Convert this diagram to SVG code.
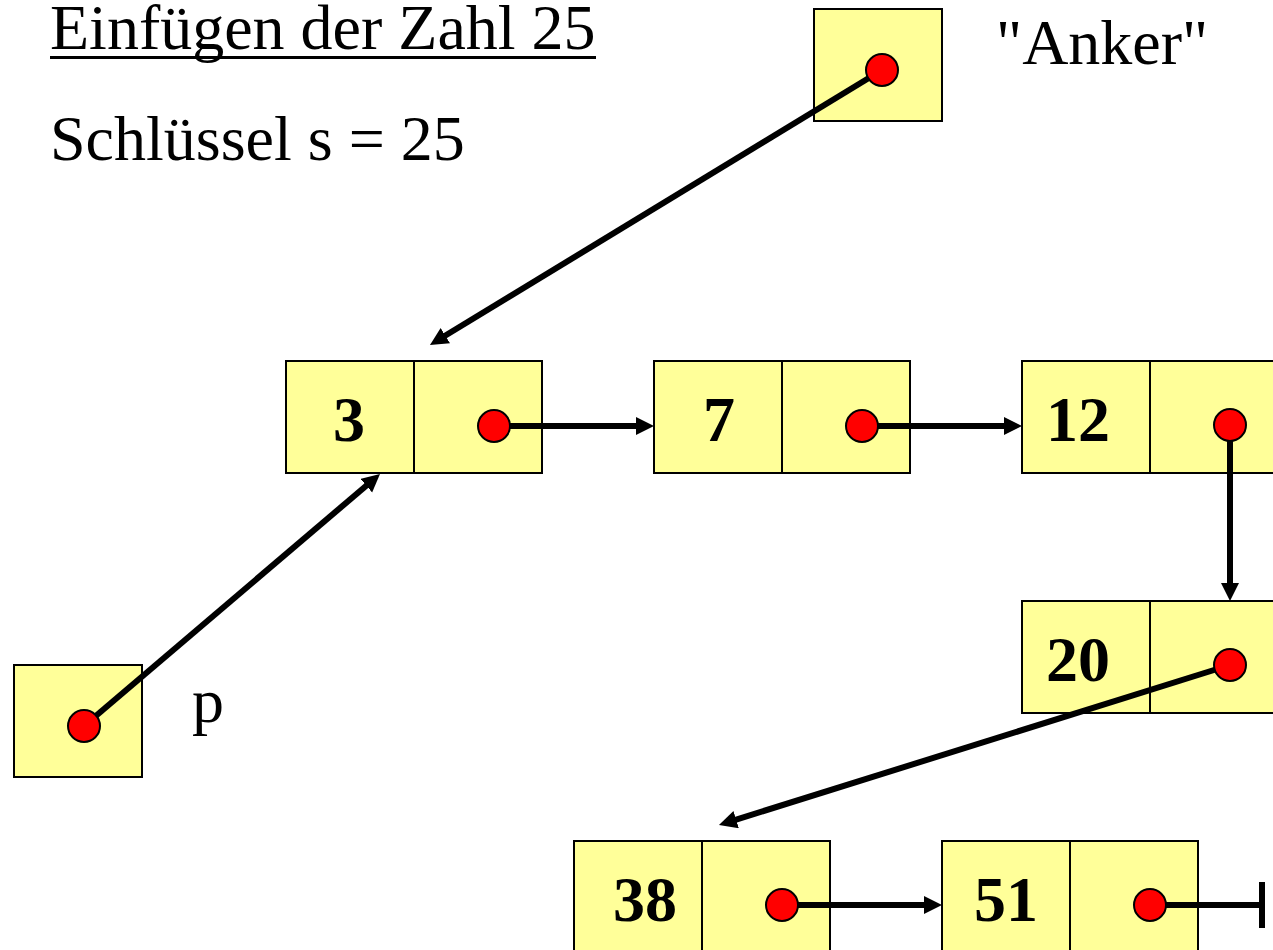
<svg xmlns="http://www.w3.org/2000/svg" width="1273" height="950" viewBox="0 0 1273 950">
<style>
.box{fill:#FFFF99;stroke:#000;stroke-width:2}
.num{font-family:"Liberation Serif","Times New Roman",serif;font-weight:bold;font-size:64px;text-anchor:middle;fill:#000}
.lbl{font-family:"Liberation Serif","Times New Roman",serif;font-size:64px;fill:#000}
.dot{fill:#FF0000;stroke:#000;stroke-width:2}
.con{stroke:#000;stroke-width:6;fill:none}
</style>
<defs>
<marker id="arr" markerUnits="userSpaceOnUse" markerWidth="20" markerHeight="20" refX="10" refY="9" orient="auto">
<path d="M0,0 L18,9 L0,18 Z" fill="#000"/>
</marker>
</defs>
<rect width="1273" height="950" fill="#fff"/>
<g id="title">
<text class="lbl" x="50" y="49">Einfügen der Zahl 25</text>
<line x1="50" y1="57.5" x2="596" y2="57.5" stroke="#000" stroke-width="3"/>
<text class="lbl" x="50" y="160">Schlüssel s = 25</text>
</g>
<g id="nodes">
<g id="anker">
<rect class="box" x="814" y="9" width="128" height="112"/>
<text class="lbl" x="996" y="64">"Anker"</text>
</g>
<g id="p">
<rect class="box" x="14" y="665" width="128" height="112"/>
<text class="lbl" x="192" y="722">p</text>
</g>
<g id="n3">
<rect class="box" x="286" y="361" width="128" height="112"/>
<rect class="box" x="414" y="361" width="128" height="112"/>
<text class="num" x="349" y="441">3</text>
</g>
<g id="n7">
<rect class="box" x="654" y="361" width="128" height="112"/>
<rect class="box" x="782" y="361" width="128" height="112"/>
<text class="num" x="719" y="441">7</text>
</g>
<g id="n12">
<rect class="box" x="1022" y="361" width="128" height="112"/>
<rect class="box" x="1150" y="361" width="128" height="112"/>
<text class="num" x="1078" y="441">12</text>
</g>
<g id="n20">
<rect class="box" x="1022" y="601" width="128" height="112"/>
<rect class="box" x="1150" y="601" width="128" height="112"/>
<text class="num" x="1078" y="681">20</text>
</g>
<g id="n38">
<rect class="box" x="574" y="841" width="128" height="112"/>
<rect class="box" x="702" y="841" width="128" height="112"/>
<text class="num" x="645" y="921">38</text>
</g>
<g id="n51">
<rect class="box" x="942" y="841" width="128" height="112"/>
<rect class="box" x="1070" y="841" width="128" height="112"/>
<text class="num" x="1006" y="921">51</text>
</g>
</g>
<g id="connectors">
<line class="con" x1="882" y1="70" x2="436.8" y2="340.8" marker-end="url(#arr)"/>
<line class="con" x1="84" y1="726" x2="373.9" y2="479.2" marker-end="url(#arr)"/>
<line class="con" x1="494" y1="426" x2="646" y2="426" marker-end="url(#arr)"/>
<line class="con" x1="862" y1="426" x2="1014" y2="426" marker-end="url(#arr)"/>
<line class="con" x1="1230" y1="425" x2="1230" y2="593" marker-end="url(#arr)"/>
<line class="con" x1="1230" y1="665" x2="726.6" y2="822.6" marker-end="url(#arr)"/>
<line class="con" x1="782" y1="905" x2="934" y2="905" marker-end="url(#arr)"/>
<line class="con" x1="1150" y1="905" x2="1262" y2="905"/>
<line class="con" x1="1262" y1="882" x2="1262" y2="928"/>
</g>
<g id="pointer-dots">
<circle class="dot" cx="882" cy="70" r="16"/>
<circle class="dot" cx="84" cy="726" r="16"/>
<circle class="dot" cx="494" cy="426" r="16"/>
<circle class="dot" cx="862" cy="426" r="16"/>
<circle class="dot" cx="1230" cy="425" r="16"/>
<circle class="dot" cx="1230" cy="665" r="16"/>
<circle class="dot" cx="782" cy="905" r="16"/>
<circle class="dot" cx="1150" cy="905" r="16"/>
</g>
</svg>
